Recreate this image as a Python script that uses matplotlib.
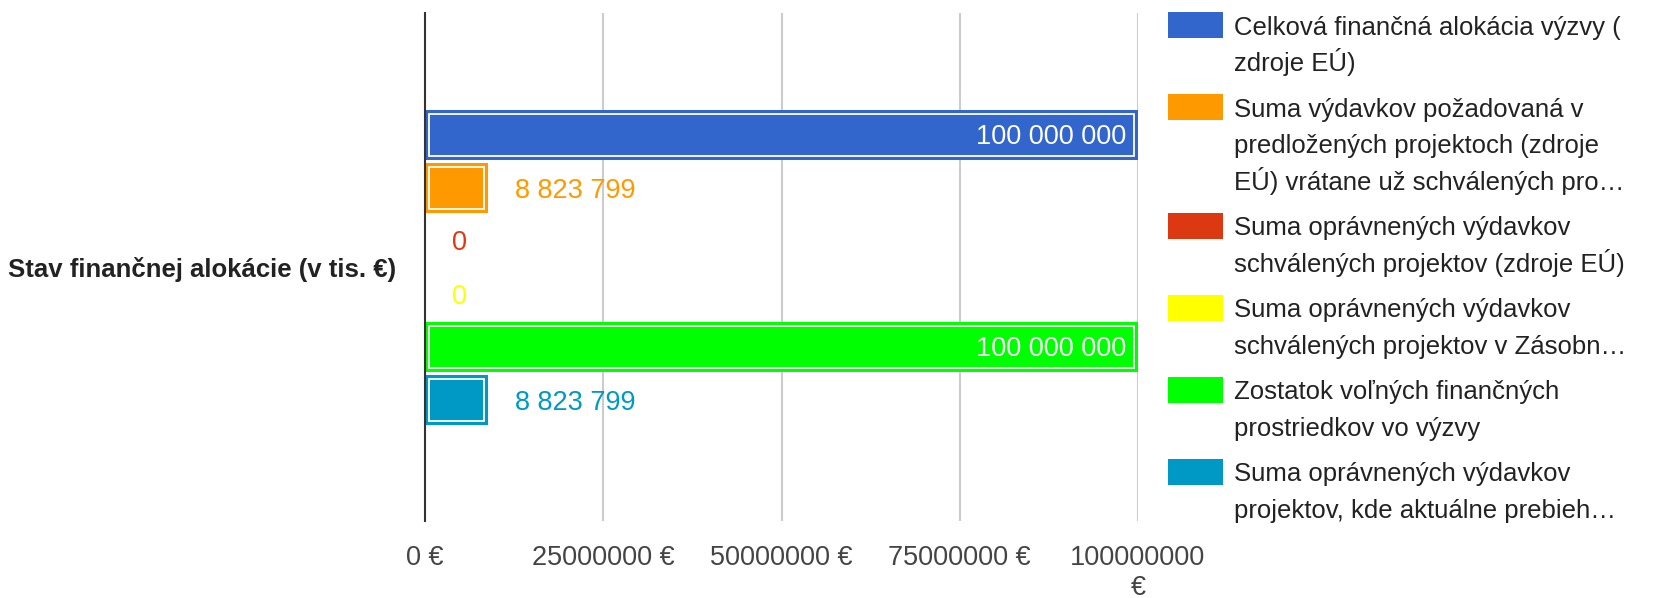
import matplotlib
matplotlib.use("Agg")
import matplotlib.pyplot as plt
from matplotlib.patches import Rectangle

plt.rcParams["font.family"] = ["Liberation Sans", "DejaVu Sans"]

# ── Data ─────────────────────────────────────────────────────────────────────
CATEGORY = "Stav finančnej alokácie (v tis. €)"

SERIES_LINES = [
    ["Celková finančná alokácia výzvy (", "zdroje EÚ)"],
    ["Suma výdavkov požadovaná v", "predložených projektoch (zdroje",
     "EÚ) vrátane už schválených pro…"],
    ["Suma oprávnených výdavkov", "schválených projektov (zdroje EÚ)"],
    ["Suma oprávnených výdavkov", "schválených projektov v Zásobn…"],
    ["Zostatok voľných finančných", "prostriedkov vo výzvy"],
    ["Suma oprávnených výdavkov", "projektov, kde aktuálne prebieh…"],
]
VALUES = [100000000, 8823799, 0, 0, 100000000, 8823799]
COLORS = ["#3366cc", "#ff9900", "#dc3912", "#ffff00", "#00ff00", "#0099c6"]

X_TICKS = [0, 25000000, 50000000, 75000000, 100000000]
X_TICK_LABELS = ["0 €", "25000000 €", "50000000 €", "75000000 €", "100000000\n€"]

# ── Layout (pixels) ──────────────────────────────────────────────────────────
W, H = 1660, 598
AX_L, AX_R, AX_T, AX_B = 425, 1138, 13, 521
SLOT = 53.0
FS = 19.5

fig = plt.figure(figsize=(W / 100, H / 100), dpi=100)
fig.patch.set_facecolor("white")
ax = fig.add_axes([AX_L / W, 1 - AX_B / H, (AX_R - AX_L) / W, (AX_B - AX_T) / H])

n = len(VALUES)
half_span = (AX_B - AX_T) / SLOT / 2
mid = (n - 1) / 2
ax.set_ylim(mid + half_span, mid - half_span)
ax.set_xlim(0, 100000000)

# pixel -> data helpers for the inner white outline
px_x = 100000000 / (AX_R - AX_L)
px_y = 1.0 / SLOT
bar_h = 50 / SLOT
inset = 4

for i, (val, col) in enumerate(zip(VALUES, COLORS)):
    if val > 0:
        ax.barh(i, val, height=bar_h, color=col, edgecolor="none", zorder=3)
        ax.barh(i, val - 2 * inset * px_x, left=inset * px_x,
                height=bar_h - 2 * inset * px_y, facecolor="none",
                edgecolor="white", linewidth=1.3, zorder=4)
    label = f"{val:,}".replace(",", " ")
    if val > 0.5 * max(VALUES):
        ax.annotate(label, (val, i), xytext=(-12, 0), textcoords="offset pixels",
                    ha="right", va="center_baseline", color="white",
                    fontsize=FS, zorder=5)
    else:
        ax.annotate(label, (val, i), xytext=(27, 0), textcoords="offset pixels",
                    ha="left", va="center_baseline", color=col,
                    fontsize=FS, zorder=5)

# axes styling
ax.set_xticks(X_TICKS)
ax.set_xticklabels(X_TICK_LABELS, fontsize=FS, color="#444444", linespacing=1.2)
ax.tick_params(axis="x", length=0, pad=17)
ax.grid(axis="x", color="#cccccc", linewidth=1.5, zorder=0)
ax.set_axisbelow(True)
ax.set_yticks([mid])
ax.set_yticklabels([CATEGORY], fontsize=18.5, fontweight="bold", color="#222222")
ax.tick_params(axis="y", length=0, pad=21)
for s in ["top", "right", "bottom"]:
    ax.spines[s].set_visible(False)
ax.spines["left"].set_color("#333333")
ax.spines["left"].set_linewidth(1.5)
ax.spines["left"].set_zorder(6)

# ── Legend (drawn by hand, Google-chart style) ───────────────────────────────
LINE_H, GAP = 36.5, 9
top = 12
for lines, col in zip(SERIES_LINES, COLORS):
    fig.patches.append(Rectangle((1168 / W, 1 - (top + 26) / H), 55 / W, 26 / H,
                                 transform=fig.transFigure, facecolor=col,
                                 edgecolor="none"))
    for k, line in enumerate(lines):
        fig.text(1234 / W, 1 - (top + 23 + k * LINE_H) / H, line,
                 ha="left", va="baseline", fontsize=18.5, color="#222222")
    top += len(lines) * LINE_H + GAP

fig.savefig("out.png", dpi=100, facecolor="white")
